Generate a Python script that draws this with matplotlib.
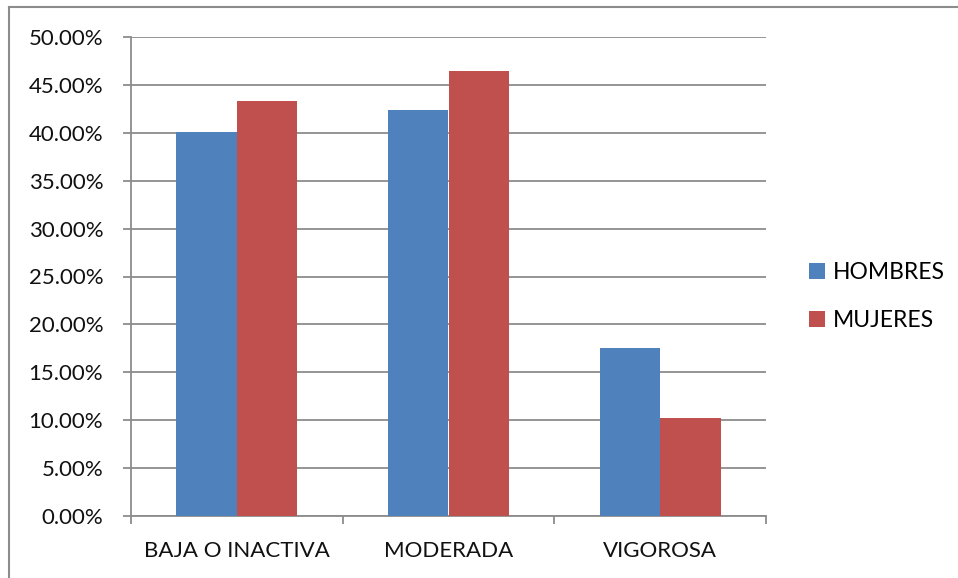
import numpy as np
from matplotlib import pyplot as plt
from matplotlib.lines import Line2D
from matplotlib.ticker import FuncFormatter

# niveles de actividad fisica
categorias = ['BAJA O INACTIVA', 'MODERADA', 'VIGOROSA']
hombres = [40.1, 42.35, 17.5]
mujeres = [43.3, 46.4, 10.2]
series = ['HOMBRES', 'MUJERES']

plt.rcParams['font.family'] = ['Lato', 'DejaVu Sans']

fig = plt.figure(figsize=(9.58, 5.78), dpi=100)
ax = fig.add_axes([131 / 958, 62 / 578, 635 / 958, 479 / 578])

x = np.arange(len(categorias))
w = 1 / 3.5
ax.bar(x - w / 2, hombres, w, color='#4F81BD', label=series[0], zorder=3)
ax.bar(x + w / 2, mujeres, w, color='#C0504D', label=series[1], zorder=3)

ax.set_xlim(-0.5, 2.5)
ax.set_ylim(0, 50)
ax.set_yticks(np.arange(0, 51, 5))
ax.yaxis.set_major_formatter(FuncFormatter(lambda v, p: '%.2f%%' % v))
ax.grid(axis='y', color='#8C8C8C', linewidth=1.3, zorder=0)

ax.set_xticks(x)
ax.set_xticklabels(categorias)
ax.set_xticks([-0.5, 0.5, 1.5, 2.5], minor=True)
ax.tick_params(axis='x', which='major', length=0, pad=18, labelsize=16,
               labelcolor='#111111')
ax.tick_params(axis='x', which='minor', length=6, width=1.3, color='#8C8C8C')
ax.tick_params(axis='y', length=6, width=1.3, color='#8C8C8C', pad=14,
               labelsize=16, labelcolor='#111111')

for s in ['top', 'right']:
    ax.spines[s].set_visible(False)
for s in ['left', 'bottom']:
    ax.spines[s].set_color('#8C8C8C')
    ax.spines[s].set_linewidth(1.3)

ax.legend(loc='center left', bbox_to_anchor=(1.035, 0.458), frameon=False,
          fontsize=16.5, handlelength=0.7, handleheight=0.7,
          handletextpad=0.35, labelspacing=1.2)

# marco exterior del grafico
fig.add_artist(Line2D([9 / 958, 9 / 958], [0, 1 - 7 / 578],
                      transform=fig.transFigure, color='#8C8C8C', lw=1.5))
fig.add_artist(Line2D([9 / 958, 1], [1 - 7 / 578, 1 - 7 / 578],
                      transform=fig.transFigure, color='#8C8C8C', lw=1.5))

fig.savefig('out.png', dpi=100)
